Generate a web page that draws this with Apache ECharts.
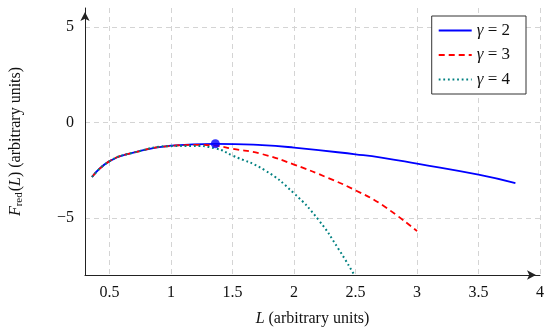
<!DOCTYPE html>
<html>
<head>
<meta charset="utf-8">
<script src="https://cdn.jsdelivr.net/npm/echarts@6/dist/echarts.min.js"></script>
<style>html,body{margin:0;padding:0;background:#fff}#c{width:550px;height:334px}</style>
</head>
<body>
<div id="c"></div>
<script>
// Data: [L, F_red]
const gamma2 = [[0.357,-2.86],[0.5,-2.03],[0.686,-1.6],[1.0,-1.22],[1.36,-1.12],[1.74,-1.19],[2.0,-1.32],[2.5,-1.67],[2.71,-1.84],[3.0,-2.16],[3.5,-2.74],[3.8,-3.18]];
const gamma3 = [[0.357,-2.86],[0.5,-2.03],[0.686,-1.6],[1.0,-1.23],[1.2,-1.18],[1.36,-1.22],[1.5,-1.38],[1.74,-1.66],[2.0,-2.21],[2.28,-2.92],[2.5,-3.56],[2.71,-4.3],[3.0,-5.7]];
const gamma4 = [[0.357,-2.86],[0.5,-2.03],[0.686,-1.6],[1.0,-1.24],[1.17,-1.23],[1.36,-1.36],[1.5,-1.74],[1.76,-2.5],[2.0,-3.72],[2.2,-5.12],[2.36,-6.62],[2.49,-8.0]];
const marker = [[1.36,-1.12]];
const seriesNames = ['γ = 2','γ = 3','γ = 4'];
const xTicks = [0.5,1,1.5,2,2.5,3,3.5,4];
const yTicks = [-5,0,5];

const FONT = 'Liberation Serif';
const chart = echarts.init(document.getElementById('c'));
const splitStyle = {color:'#d4d4d4', width:1, type:[5,4]};
chart.setOption({
  animation:false,
  textStyle:{fontFamily:FONT},
  grid:{left:83, right:10, top:8, bottom:59},
  legend:{
    orient:'vertical', right:24, top:16,
    data:seriesNames,
    itemWidth:33, itemHeight:14, itemGap:7.5,
    padding:[6,16,6,6],
    borderColor:'#333', borderWidth:1, borderRadius:0,
    backgroundColor:'#fff',
    itemStyle:{opacity:0},
    textStyle:{fontFamily:FONT, fontSize:17, color:'#111',
      rich:{i:{fontStyle:'italic', fontFamily:FONT, fontSize:17, color:'#111'}}},
    formatter: n => '{i|γ}' + n.slice(1),
  },
  xAxis:{
    type:'value', min:0.3, max:4,
    axisLine:{show:true, onZero:false, lineStyle:{color:'#222', width:1}, symbol:['none','arrow'], symbolSize:[7,9], symbolOffset:[0,-4]},
    axisTick:{show:false, customValues:xTicks},
    axisLabel:{customValues:xTicks, fontFamily:FONT, fontSize:16, color:'#111', margin:10},
    splitLine:{show:true, lineStyle:splitStyle},
    name:'{i|L} (arbitrary units)', nameLocation:'middle', nameGap:36,
    nameTextStyle:{fontFamily:FONT, fontSize:16, color:'#111', rich:{i:{fontStyle:'italic', fontFamily:FONT, fontSize:16}}}
  },
  yAxis:{
    type:'value', min:-8, max:6,
    axisLine:{show:true, onZero:false, lineStyle:{color:'#222', width:1}, symbol:['none','arrow'], symbolSize:[7,9], symbolOffset:[0,-4]},
    axisTick:{show:false, customValues:yTicks},
    axisLabel:{customValues:yTicks, fontFamily:FONT, fontSize:16, color:'#111', margin:11,
      formatter: v => v < 0 ? '\u2212' + Math.abs(v) : String(v)},
    splitLine:{show:true, lineStyle:splitStyle},
    name:'{i|F}{s|red}({i|L}) (arbitrary units)', nameLocation:'middle', nameGap:60,
    nameTextStyle:{fontFamily:FONT, fontSize:16, color:'#111',
      rich:{i:{fontStyle:'italic', fontFamily:FONT, fontSize:16}, s:{fontFamily:FONT, fontSize:11, padding:[7,1,0,0]}}}
  },
  series:[
    {name:seriesNames[0], type:'line', data:gamma2, smooth:0.5, symbol:'none', lineStyle:{color:'#0000ff', width:1.8}, itemStyle:{color:'#0000ff'}, z:3},
    {name:seriesNames[1], type:'line', data:gamma3, smooth:0.5, symbol:'none', lineStyle:{color:'#ff0000', width:1.8, type:[6,4]}, itemStyle:{color:'#ff0000'}, z:4},
    {name:seriesNames[2], type:'line', data:gamma4, smooth:0.5, symbol:'none', lineStyle:{color:'#008080', width:2, type:[1.8,2.8]}, itemStyle:{color:'#008080'}, z:5},
    {name:'max', type:'scatter', data:marker, symbol:'circle', symbolSize:9, itemStyle:{color:'#0000ff'}, z:6}
  ]
});
</script>
</body>
</html>
